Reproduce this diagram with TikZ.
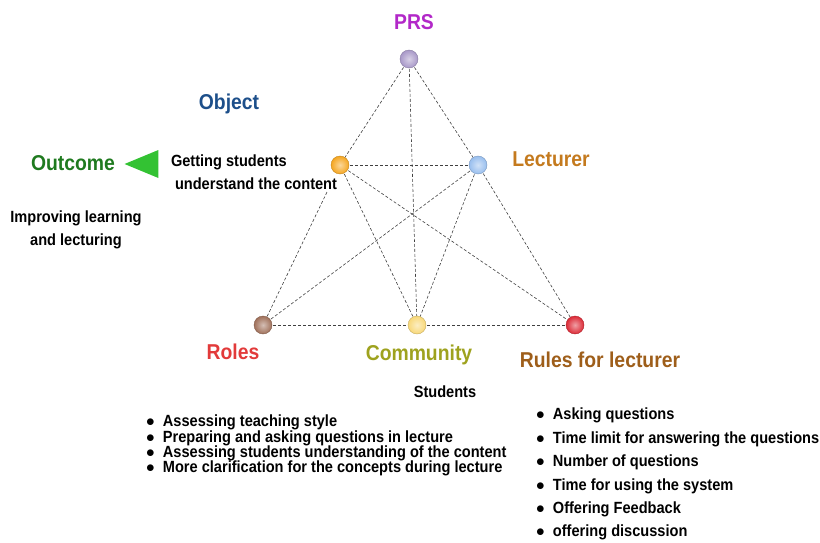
\documentclass[tikz,border=0pt]{standalone}
\usepackage{fontspec}
\setmainfont{Liberation Sans}[FakeStretch=0.9]
\usetikzlibrary{shapes.geometric}

\definecolor{prsc}{HTML}{B228C8}
\definecolor{objc}{HTML}{1D4F8A}
\definecolor{outc}{HTML}{1F7A1F}
\definecolor{lecc}{HTML}{C47A1E}
\definecolor{rolc}{HTML}{E23A3A}
\definecolor{comc}{HTML}{9EA21E}
\definecolor{rulc}{HTML}{9E5E1A}
\definecolor{dprs}{HTML}{A898C8}
\definecolor{dobj}{HTML}{F5A620}
\definecolor{dlec}{HTML}{98BEEE}
\definecolor{drol}{HTML}{A0705A}
\definecolor{dcom}{HTML}{F8D878}
\definecolor{drul}{HTML}{DC2A36}

\begin{document}
\begin{tikzpicture}[x=1pt,y=-1pt,
        dot/.style={circle, minimum size=18pt, inner sep=0pt, draw=#1!80!black, line width=0.4pt,
            shading=radial, inner color=#1!45!white, outer color=#1},
        lien/.style={draw=black!75, densely dashed, line width=0.6pt},
        titre/.style={font=\bfseries\fontsize{21.5}{24}\selectfont, text=#1},
        texte/.style={font=\bfseries\fontsize{16.2}{23.5}\selectfont, text=black},
        liste/.style={font=\bfseries\fontsize{16.2}{#1}\selectfont, align=left, anchor=north west, inner sep=0pt},
    ]
    \useasboundingbox (0,0) rectangle (820,543);
    % positions
    \coordinate (prs) at (409,59);
    \coordinate (obj) at (340,165);
    \coordinate (lec) at (478,165);
    \coordinate (rol) at (263,325);
    \coordinate (com) at (417,325);
    \coordinate (rul) at (575,325);
    % liens
    \foreach \a/\b in {prs/obj, prs/lec, prs/com, obj/lec, obj/rol, obj/com, obj/rul,
            lec/rol, lec/com, lec/rul, rol/com, com/rul}
        \draw[lien] (\a) -- (\b);
    \node[texte, fill=white, align=left, inner sep=1pt] (but) at (254,172)
        {Getting students\\\hspace{4pt}understand the content};
    % sommets
    \foreach \s/\c in {prs/dprs, obj/dobj, lec/dlec, rol/drol, com/dcom, rul/drul}
        \node[dot=\c] (d\s) at (\s) {};
    % textes
    \node[titre=prsc] (tprs) at (414,22) {PRS};
    \node[titre=objc] (tobj) at (229,104) {Object};
    \node[titre=outc] (tout) at (73,163) {Outcome};
    \node[isosceles triangle, shape border rotate=180, fill=green!70!black!80!white,
        minimum height=17pt, minimum width=28pt, inner sep=0pt] (fleche) at (149,164) {};
    \node[texte, align=center] (res) at (76,230) {Improving learning\\and lecturing};
    \node[titre=lecc] (tlec) at (551,159) {Lecturer};
    \node[titre=rolc] (trol) at (233,352) {Roles};
    \node[titre=comc] (tcom) at (419,355) {Community};
    \node[titre=rulc] (trul) at (600,360) {Rules for lecturer};
    \node[texte] (etu) at (445,392) {Students};
    \node[liste=15.3] (lrol) at (146,415) {%
        $\bullet$\ \ Assessing teaching style\\
        $\bullet$\ \ Preparing and asking questions in lecture\\
        $\bullet$\ \ Assessing students understanding of the content\\
        $\bullet$\ \ More clarification for the concepts during lecture};
    \node[liste=23.4] (lrul) at (536,408) {%
        $\bullet$\ \ Asking questions\\
        $\bullet$\ \ Time limit for answering the questions\\
        $\bullet$\ \ Number of questions\\
        $\bullet$\ \ Time for using the system\\
        $\bullet$\ \ Offering Feedback\\
        $\bullet$\ \ offering discussion};
\end{tikzpicture}
\end{document}
